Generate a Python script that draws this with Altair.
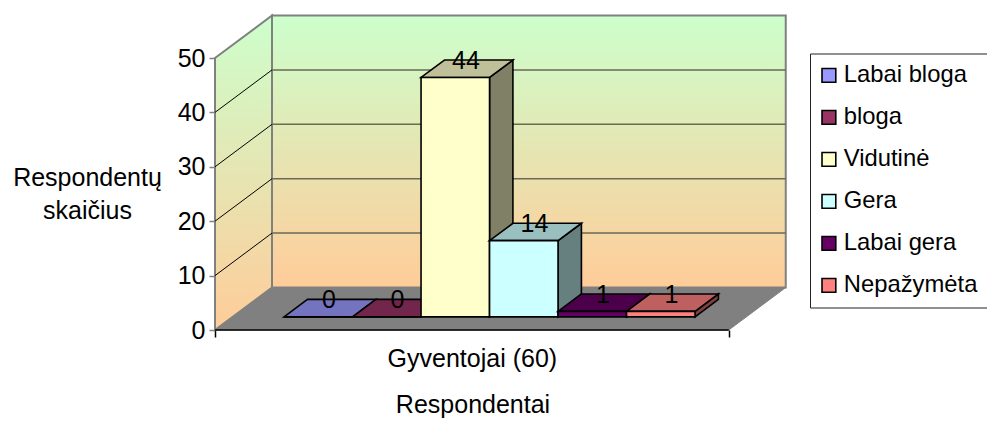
import altair as alt
import pandas as pd

# --- chart values ---
categories = ["Labai bloga", "bloga", "Vidutinė", "Gera", "Labai gera", "Nepažymėta"]
values = [0, 0, 44, 14, 1, 1]
colors = ["#9999FF", "#993366", "#FFFFCC", "#CCFFFF", "#660066", "#FF8080"]
y_ticks = [0, 10, 20, 30, 40, 50]
group_label = "Gyventojai (60)"
x_title = "Respondentai"
y_title = ["Respondentų", "skaičius"]

# --- oblique projection settings ---
FONT = "Liberation Sans"
FS = 25
PX_X, PX_Y = 68.5, 5.44      # pixels per category / per unit
W, H = 575, 315
GAP = 0.75                   # floor margin left of first bar, in categories
FRONT = GAP * 2 + len(categories)
DX, DV = 57 / PX_X, 42.5 / PX_Y   # full depth vector in data units
Z0, Z1 = 0.31, 0.72          # bar depth range
xdom = [0, W / PX_X]
ydom = [0, H / PX_Y]

x_axis = alt.Axis(
    values=[0, FRONT / 2, FRONT], title=x_title, grid=False, domain=False,
    labelExpr=f"datum.value == {FRONT / 2} ? '{group_label}' : ''",
    tickColor="black", tickWidth=1.5, tickSize=7,
    tickOpacity={"condition": {"test": f"datum.value == {FRONT / 2}", "value": 0}, "value": 1},
    labelFont=FONT, labelFontSize=FS, labelColor="black", labelPadding=9, labelOverlap=False,
    labelFlush=False, labelBound=False,
    titleFont=FONT, titleFontSize=FS, titleFontWeight="normal", titleColor="black",
    titleX=257.5, titleY=82, titleBaseline="alphabetic", titleAlign="center",
)
y_axis = alt.Axis(
    values=y_ticks, title=y_title, grid=False, domain=False,
    tickColor="#808080", tickWidth=1.5, tickSize=6,
    labelFont=FONT, labelFontSize=FS, labelColor="black", labelPadding=4,
    titleFont=FONT, titleFontSize=FS, titleFontWeight="normal", titleColor="black",
    titleAngle=0, titleAlign="center", titleBaseline="alphabetic", titleLineHeight=33.5,
    titleX=-128, titleY=170,
)


def sx(name):
    return alt.X(name, type="quantitative", scale=alt.Scale(domain=xdom, nice=False, zero=False), axis=x_axis)


def sy(name):
    return alt.Y(name, type="quantitative", scale=alt.Scale(domain=ydom, nice=False, zero=False), axis=y_axis)


def px(c, z):
    return c + DX * z


def pv(v, z):
    return v + DV * z


def shade(hexcol, k):
    r, g, b = [int(hexcol[i:i + 2], 16) for i in (1, 3, 5)]
    return "#%02X%02X%02X" % (round(r * k), round(g * k), round(b * k))


def vface(x0, x1, a0, a1, b0, b1, **mk):
    """Face with vertical sides: at x0 spans a0..a1, at x1 spans b0..b1."""
    d = pd.DataFrame({"x": [x0, x1], "y": [a1, b1], "y2": [a0, b0]})
    return alt.Chart(d).mark_area(**mk).encode(x=sx("x"), y=sy("y"), y2="y2:Q")


def hface(y0, y1, a0, a1, b0, b1, **mk):
    """Face with horizontal sides: at y0 spans a0..a1, at y1 spans b0..b1."""
    d = pd.DataFrame({"y": [y0, y1], "x": [a0, b0], "x2": [a1, b1]})
    return alt.Chart(d).mark_area(orient="horizontal", **mk).encode(y=sy("y"), x=sx("x"), x2="x2:Q")


wall_fill = alt.Gradient(
    gradient="linear", x1=0, x2=0, y1=0, y2=1,
    stops=[alt.GradientStop(color="#CCFFCC", offset=0), alt.GradientStop(color="#FFCC99", offset=1)],
)
WALL = dict(fill=wall_fill, stroke="#808080", strokeWidth=2)
top = max(y_ticks)

layers = []
# back wall
layers.append(vface(px(0, 1), px(FRONT, 1), pv(0, 1), pv(top, 1), pv(0, 1), pv(top, 1), **WALL))
# side wall
layers.append(vface(px(0, 0), px(0, 1), pv(0, 0), pv(top, 0), pv(0, 1), pv(top, 1), **WALL))

# grid lines
grid = pd.DataFrame({"t": [t for t in y_ticks[1:-1]]})
grid["x0"] = px(0, 0)
grid["x1"] = px(0, 1)
grid["x2b"] = px(FRONT, 1)
grid["vf"] = [pv(t, 0) for t in grid["t"]]
grid["vb"] = [pv(t, 1) for t in grid["t"]]
layers.append(alt.Chart(grid).mark_rule(color="black", strokeWidth=1).encode(
    x=sx("x0"), x2="x1:Q", y=sy("vf"), y2="vb:Q"))
layers.append(alt.Chart(grid).mark_rule(color="#6A6A55", strokeWidth=1.5).encode(
    x=sx("x1"), x2="x2b:Q", y=sy("vb"), y2="vb:Q"))

# floor
layers.append(hface(pv(0, 0), pv(0, 1), px(0, 0), px(FRONT, 0), px(0, 1), px(FRONT, 1),
                    color="#808080", stroke="#808080", strokeWidth=1))

# floor's front edge
edge = pd.DataFrame({"x": [0.0], "x2": [FRONT], "y": [0.0]})
layers.append(alt.Chart(edge).mark_rule(color="black", strokeWidth=1.5).encode(
    x=sx("x"), x2="x2:Q", y=sy("y")))

# bars, left to right
color_scale = alt.Scale(domain=categories, range=colors)
legend = alt.Legend(
    title=None, orient="none", legendX=595, legendY=38.5,
    symbolType="square", symbolSize=190, symbolStrokeColor="black", symbolStrokeWidth=1.6,
    symbolOffset=-3,
    labelFont=FONT, labelFontSize=23.8, labelColor="black", labelOffset=3, labelLimit=300,
    rowPadding=17, padding=10, fillColor="white", strokeColor="#222222", cornerRadius=0,
)
BAR = dict(stroke="black", strokeWidth=1.6)
for i, (name, val, col) in enumerate(zip(categories, values, colors)):
    c0, c1 = GAP + i, GAP + i + 1
    layers.append(vface(px(c1, Z0), px(c1, Z1), pv(0, Z0), pv(val, Z0), pv(0, Z1), pv(val, Z1),
                        color=shade(col, 0.5), **BAR))
    layers.append(hface(pv(val, Z0), pv(val, Z1), px(c0, Z0), px(c1, Z0), px(c0, Z1), px(c1, Z1),
                        color=shade(col, 0.75), **BAR))
    front = pd.DataFrame({"name": [name], "x": [px(c0, Z0)], "x2": [px(c1, Z0)],
                          "y": [pv(0, Z0)], "y2": [pv(val, Z0)]})
    layers.append(alt.Chart(front).mark_rect(**BAR).encode(
        x=sx("x"), x2="x2:Q", y=sy("y"), y2="y2:Q",
        color=alt.Color("name:N", scale=color_scale, legend=legend if i == 0 else None),
    ))

# value labels
zm = (Z0 + Z1) / 2
lab = pd.DataFrame({
    "x": [px(GAP + i + 0.5, zm) for i in range(len(values))],
    "y": [pv(v, zm) for v in values],
    "t": [str(v) for v in values],
})
layers.append(alt.Chart(lab).mark_text(font=FONT, fontSize=FS, color="black", baseline="alphabetic", align="center", dx=-1).encode(
    x=sx("x"), y=sy("y"), text="t:N"))

chart = alt.layer(*layers).properties(
    width=W, height=H,
    autosize=alt.AutoSizeParams(type="none"),
    padding={"left": 207, "top": 7, "right": 197, "bottom": 88},
    background="white",
).configure_view(stroke=None)

chart.save("out.html", embed_options={"renderer": "svg", "actions": False})
